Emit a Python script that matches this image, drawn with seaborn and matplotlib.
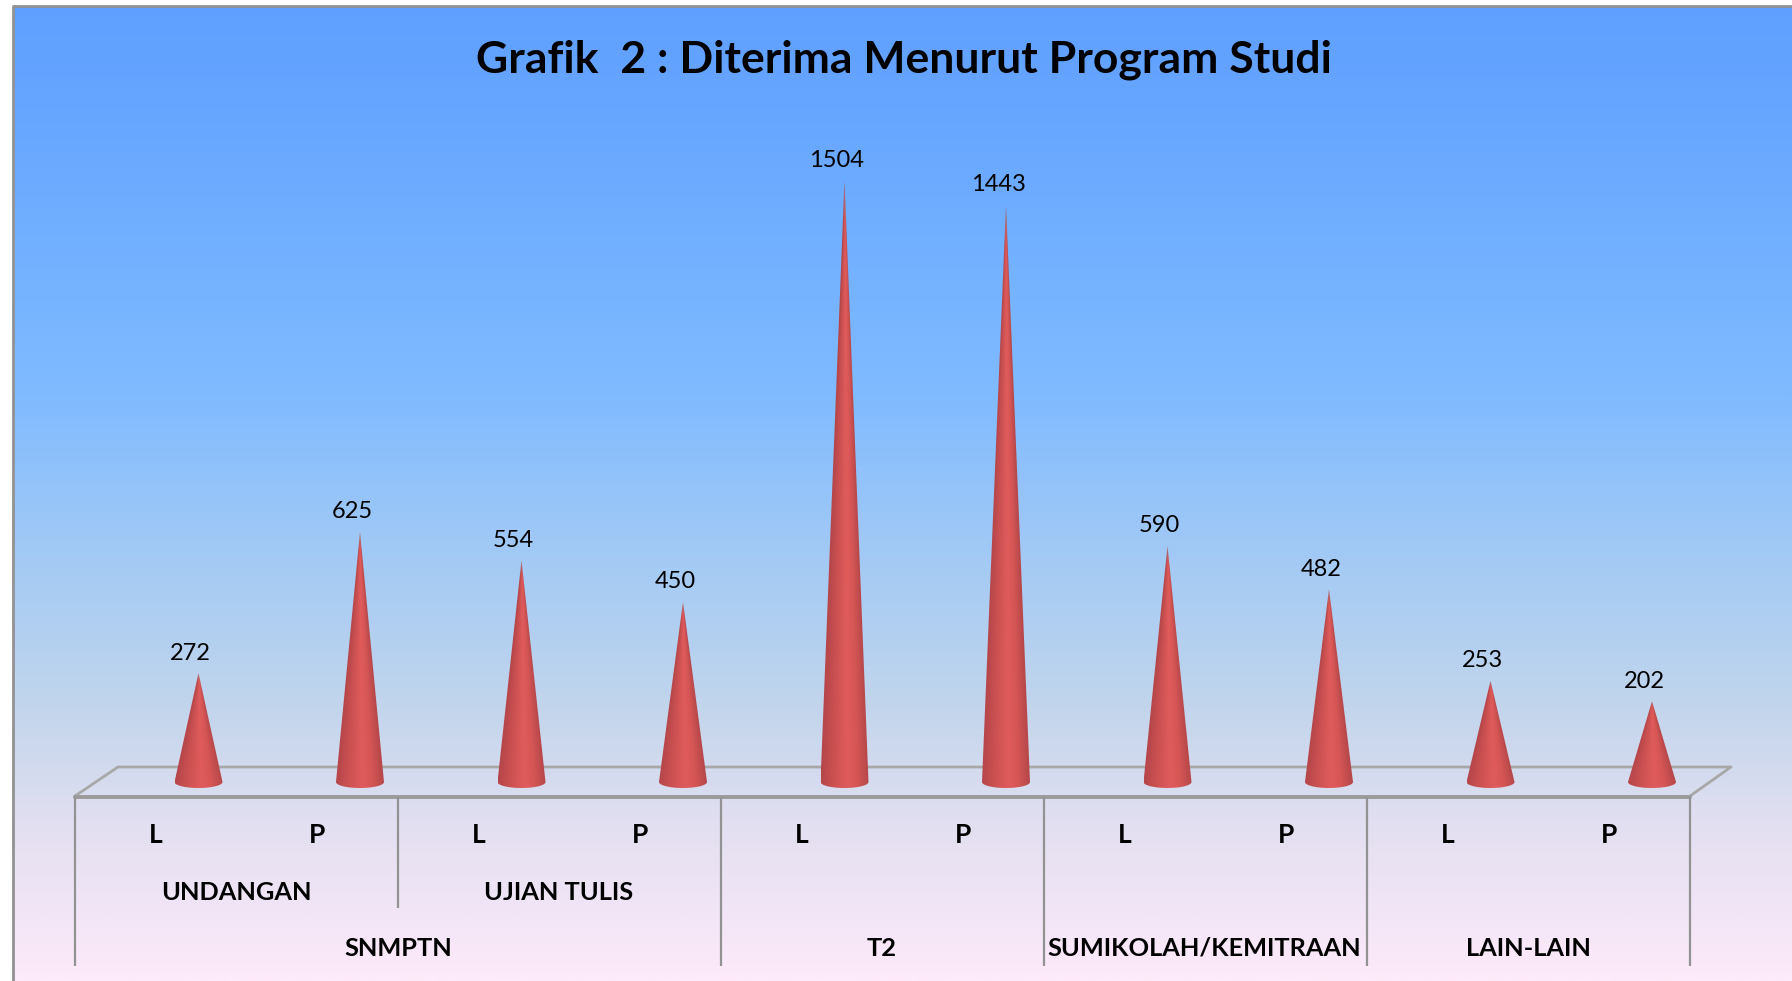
import numpy as np
import pandas as pd
import seaborn as sns
import matplotlib.pyplot as plt
from matplotlib.colors import LinearSegmentedColormap
from matplotlib.path import Path
from matplotlib.patches import PathPatch

# data
kategori = ["UNDANGAN L", "UNDANGAN P", "UJIAN TULIS L", "UJIAN TULIS P", "T2 L", "T2 P",
            "SUMIKOLAH L", "SUMIKOLAH P", "LAIN-LAIN L", "LAIN-LAIN P"]
nilai = [272, 625, 554, 450, 1504, 1443, 590, 482, 253, 202]
jenis_kelamin = ["L", "P"] * 5
sub_program = ["UNDANGAN", "UJIAN TULIS"]
program = ["SNMPTN", "T2", "SUMIKOLAH/KEMITRAAN", "LAIN-LAIN"]

W, H = 1792, 981
X0, DX = 198.5, 161.5   # px of the first cone, px between cones
Y0, SY = 782.0, 0.40    # px of value 0, px per unit
GRIS = "#929292"

sns.set_theme(style="white")
plt.rcParams["font.family"] = ["Lato", "DejaVu Sans"]

fig = plt.figure(figsize=(W / 100, H / 100), dpi=100, facecolor="white")

# layer in pixels: background, floor, group labels
fondo = fig.add_axes([0, 0, 1, 1], zorder=1)
fondo.set_xlim(0, W)
fondo.set_ylim(H, 0)
fondo.axis("off")

degradado = LinearSegmentedColormap.from_list("fondo", [
    (0.00, "#5f9fff"), (0.18, "#6cabff"), (0.40, "#80bbff"),
    (0.58, "#a6cbf4"), (0.72, "#c2d5ec"), (0.85, "#e4e0f1"), (1.00, "#fdeafa")])
fondo.imshow(np.linspace(0, 1, 512).reshape(-1, 1), cmap=degradado, aspect="auto",
             extent=(13, W, H, 6), zorder=0)
fondo.set_xlim(0, W)
fondo.set_ylim(H, 0)
fondo.plot([13, 13], [H, 5], color=GRIS, lw=2, zorder=1, solid_capstyle="butt")
fondo.plot([13, W], [6, 6], color=GRIS, lw=2, zorder=1, solid_capstyle="butt")

# floor of the 3D chart
fondo.plot([75, 118, 1731, 1690], [796, 767, 767, 796], color="#a8a8a8", lw=2.0, zorder=2)
fondo.plot([75, 1690], [797, 797], color="#9b9b9b", lw=2.8, zorder=2)

lineas_x = [75, 398, 721, 1044, 1367, 1690]
for i, lx in enumerate(lineas_x):
    fondo.plot([lx, lx], [797, 908 if i == 1 else 966], color=GRIS, lw=1.6, zorder=2,
               solid_capstyle="butt")

estilo = dict(fontweight="bold", color="black", ha="center", va="center", zorder=3)
for i, letra in enumerate(jenis_kelamin):
    fondo.text(155.5 + DX * i, 835, letra, fontsize=19, **estilo)
for nombre, px in zip(sub_program, [236.5, 559]):
    fondo.text(px, 892, nombre, fontsize=18.3, **estilo)
for nombre, px in zip(program, [398, 882, 1204.5, 1528]):
    fondo.text(px, 948, nombre, fontsize=18.3, **estilo)
fondo.text(904, 60, "Grafik  2 : Diterima Menurut Program Studi", fontsize=32, fontweight="bold",
           color="black", ha="center", va="center", zorder=3)

# layer in data units, lined up with the pixels above
ax = fig.add_axes([0, 0, 1, 1], zorder=2)
ax.patch.set_alpha(0)
df = pd.DataFrame({"kategori": kategori, "nilai": nilai})
sns.barplot(data=df, x="kategori", y="nilai", width=48 / DX, ax=ax, color="#d9534f")
ax.set_xlim(-X0 / DX, (W - X0) / DX)
ax.set_ylim((Y0 - H) / SY, Y0 / SY)
ax.axis("off")

sombra = LinearSegmentedColormap.from_list("cono", [
    (0.00, "#b5464a"), (0.22, "#c94f50"), (0.55, "#e05c5c"), (0.75, "#d65655"), (1.00, "#b6474a")])
radio_y = 6 / SY

for barra, v in zip(ax.patches, nilai):
    barra.set_visible(False)
    xc = barra.get_x() + barra.get_width() / 2
    r = barra.get_width() / 2

    # colour depends on the position across the cone at each height
    xs = np.linspace(xc - r, xc + r, 120)
    ys = np.linspace(-radio_y, v, 500)
    gx, gy = np.meshgrid(xs, ys)
    ancho = np.clip(1 - gy / v, 0.004, None) * r
    u = np.clip((gx - xc) / ancho, -1, 1) / 2 + 0.5
    rgba = sombra(u)
    # grey fading at the very tip
    punta = np.clip((gy / v - 0.93) / 0.07, 0, 1)[..., None] * 0.55
    rgba[..., :3] = rgba[..., :3] * (1 - punta) + np.array([0.55, 0.55, 0.6]) * punta
    img = ax.imshow(rgba, extent=(xc - r, xc + r, -radio_y, v), origin="lower",
                    aspect="auto", interpolation="bilinear", zorder=3)

    t = np.linspace(np.pi, 2 * np.pi, 40)
    base = np.column_stack([xc + r * np.cos(t), radio_y * np.sin(t)])
    verts = np.vstack([[[xc, v]], base, [[xc, v]]])
    codes = [Path.MOVETO] + [Path.LINETO] * (len(verts) - 2) + [Path.CLOSEPOLY]
    borde = PathPatch(Path(verts, codes), transform=ax.transData, fc="none", ec="none")
    ax.add_patch(borde)
    img.set_clip_path(borde)

    ax.annotate(str(v), (xc, v), xytext=(-8, 20), textcoords="offset pixels",
                ha="center", va="center", fontsize=17, color="black", zorder=4)

ax.set_xlim(-X0 / DX, (W - X0) / DX)
ax.set_ylim((Y0 - H) / SY, Y0 / SY)

fig.savefig("out.png", dpi=100)
